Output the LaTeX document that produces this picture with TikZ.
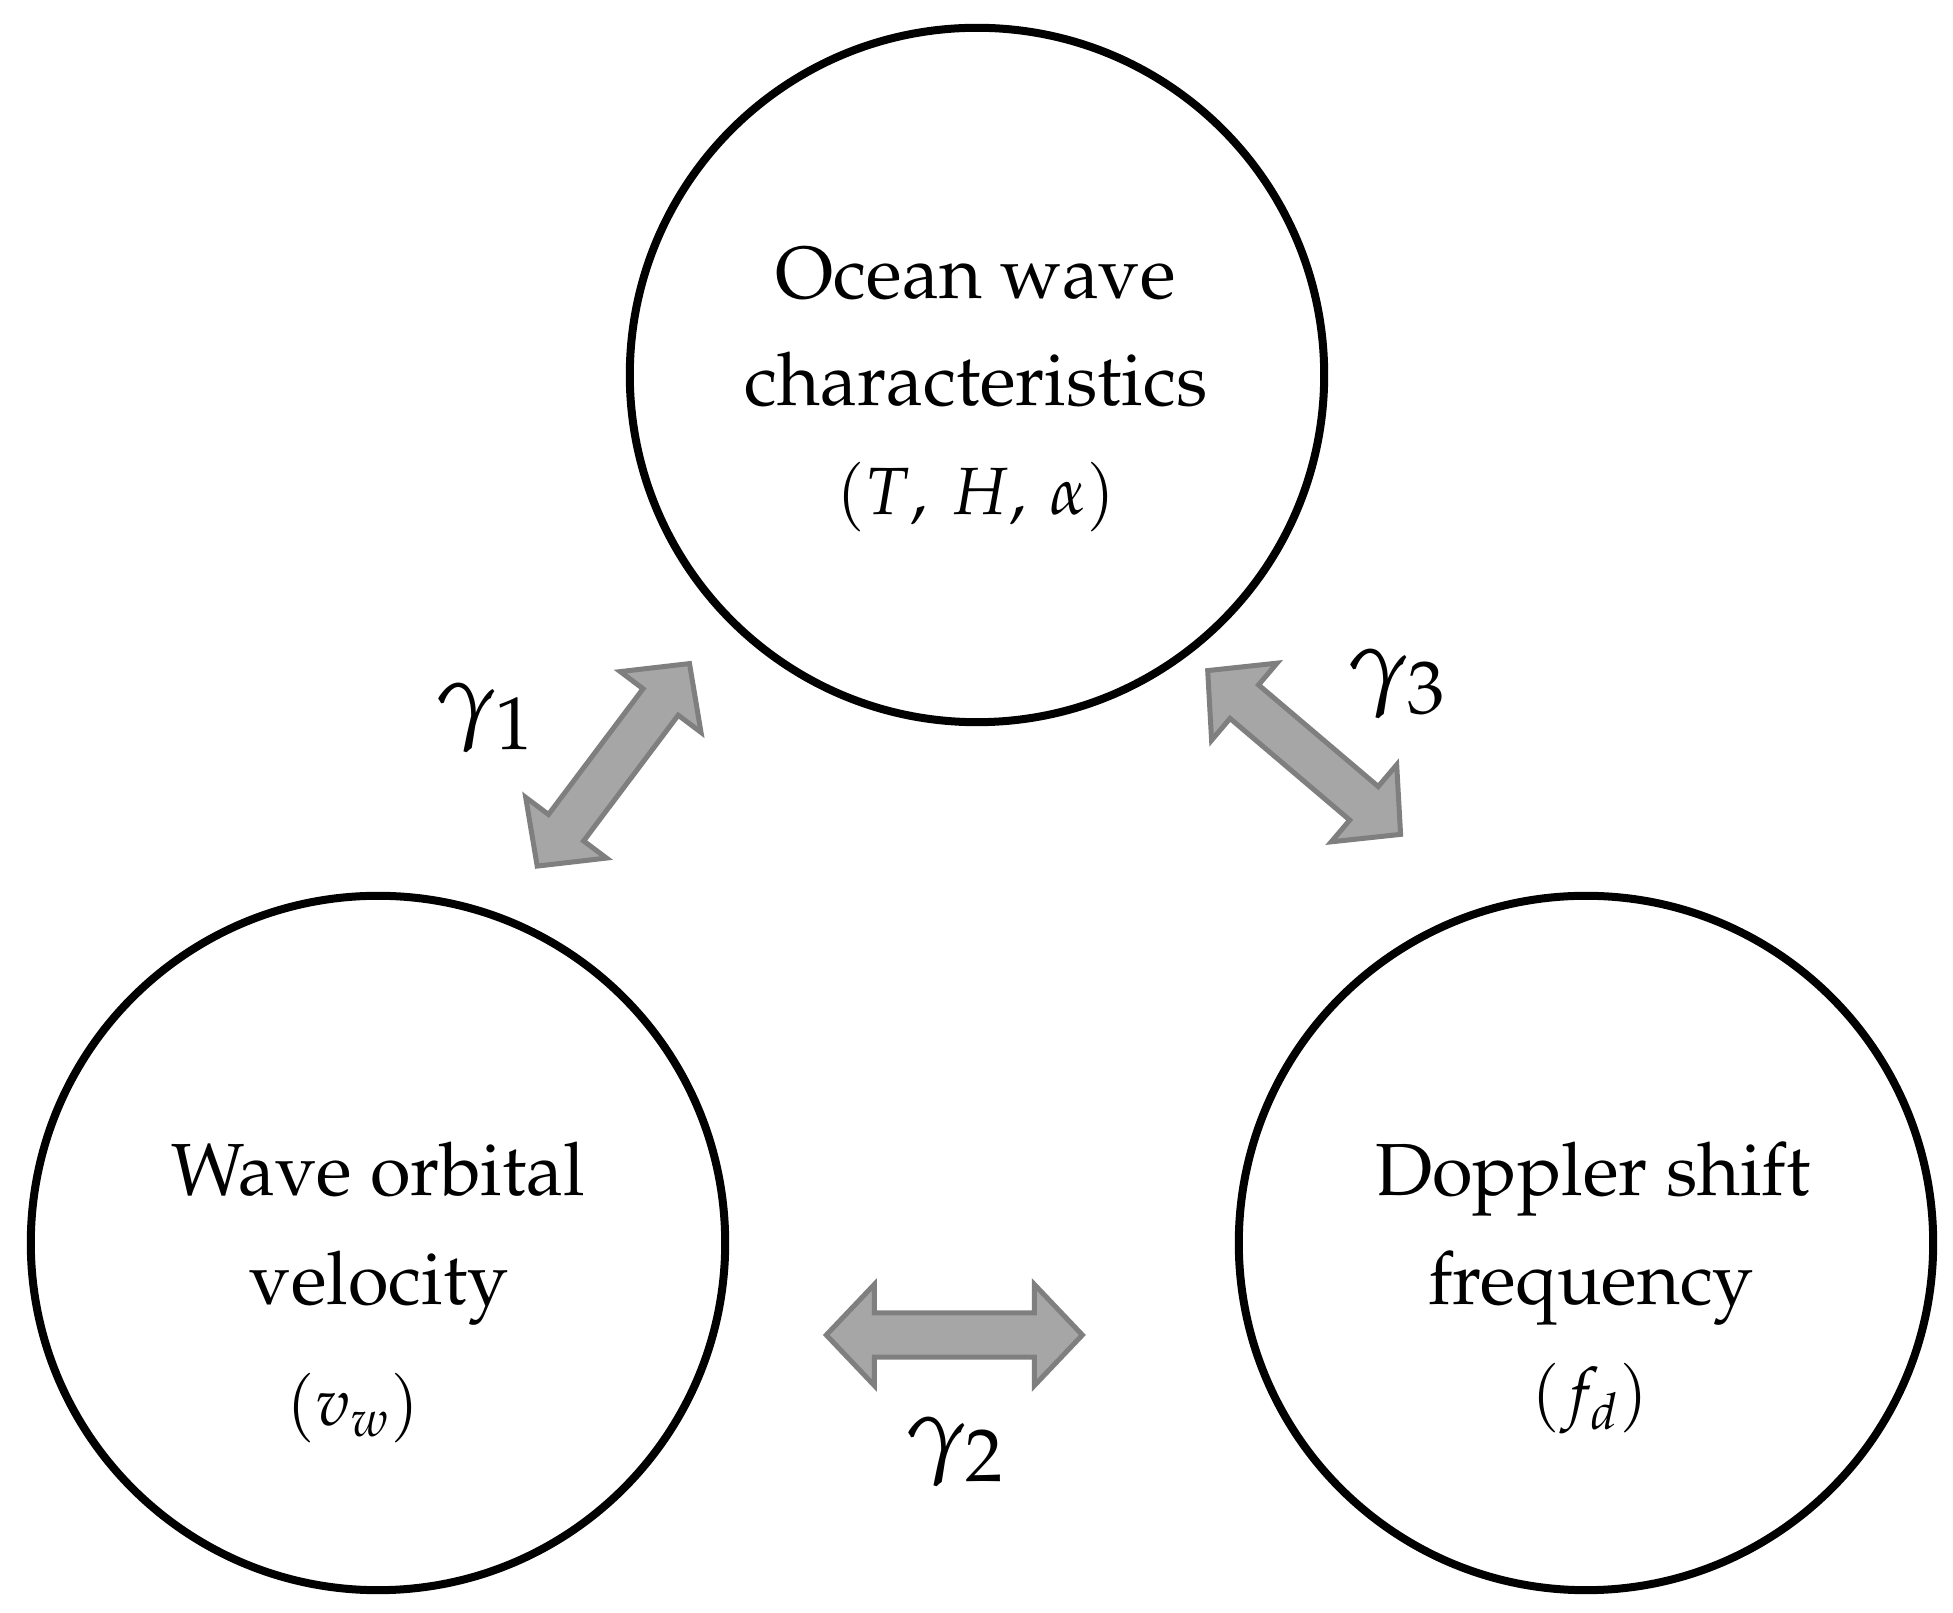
\documentclass[tikz,border=0pt]{standalone}
\usepackage[T1]{fontenc}
\usepackage{mathpazo}
\usetikzlibrary{calc}
\definecolor{arrowfill}{HTML}{A6A6A6}
\definecolor{arrowedge}{HTML}{7F7F7F}
\tikzset{
  bubble/.style={circle, draw=black, line width=0.08cm, minimum size=6.94cm, inner sep=0pt},
  txt/.style={anchor=base, inner sep=0pt, font=\fontsize{21}{24}\selectfont},
  mth/.style={anchor=base, inner sep=0pt, font=\fontsize{19}{22}\selectfont},
  glabel/.style={inner sep=0pt, font=\fontsize{28}{32}\selectfont},
  dblarrow/.style={fill=arrowfill, draw=arrowedge, line width=0.05cm, line join=miter},
}
\def\ahl{0.48cm}
\def\ahw{0.505cm}
\def\asw{0.22cm}
\newcommand{\twoheaded}[2]{%
  \path[dblarrow] (#1)
    -- ($(#1)!\ahl!(#2)!\ahw!90:(#2)$)
    -- ($(#1)!\ahl!(#2)!\asw!90:(#2)$)
    -- ($(#2)!\ahl!(#1)!\asw!-90:(#1)$)
    -- ($(#2)!\ahl!(#1)!\ahw!-90:(#1)$)
    -- (#2)
    -- ($(#2)!\ahl!(#1)!\ahw!90:(#1)$)
    -- ($(#2)!\ahl!(#1)!\asw!90:(#1)$)
    -- ($(#1)!\ahl!(#2)!\asw!-90:(#2)$)
    -- ($(#1)!\ahl!(#2)!\ahw!-90:(#2)$)
    -- cycle;}
\begin{document}
\begin{tikzpicture}[x=0.01cm,y=-0.01cm]
  \useasboundingbox (0,0) rectangle (1953,1613);
  % circles
  \node[bubble] (ocean) at (977,375) {};
  \node[bubble] (orbital) at (378,1243) {};
  \node[bubble] (doppler) at (1586,1243) {};
  % texts
  \node[txt] (ocean1) at (976,299) {Ocean wave};
  \node[txt] (ocean2) at (976,406) {characteristics};
  \node[mth] (ocean3) at (976,515) {$(T,\:H,\:\alpha)$};
  \node[txt] (orbital1) at (378,1196) {Wave orbital};
  \node[txt] (orbital2) at (379,1305) {velocity};
  \node[mth] (orbital3) at (353,1426) {$(v_w)$};
  \node[txt] (doppler1) at (1593,1196) {Doppler shift};
  \node[txt] (doppler2) at (1591,1305) {frequency};
  \node[mth] (doppler3) at (1590,1416) {$(f_d)$};
  % arrow end points
  \coordinate (a1s) at (537.2,866.1);
  \coordinate (a1e) at (689.5,663.6);
  \coordinate (a3s) at (1207.7,670.6);
  \coordinate (a3e) at (1400.6,834.4);
  \coordinate (a2s) at (826.3,1335);
  \coordinate (a2e) at (1082.4,1335);
  \twoheaded{a1s}{a1e}
  \twoheaded{a3s}{a3e}
  \twoheaded{a2s}{a2e}
  % labels
  \node[glabel] (g1) at (485,718) {$\gamma_1$};
  \node[glabel] (g3) at (1397,684) {$\gamma_3$};
  \node[glabel] (g2) at (955,1452) {$\gamma_2$};
\end{tikzpicture}
\end{document}
